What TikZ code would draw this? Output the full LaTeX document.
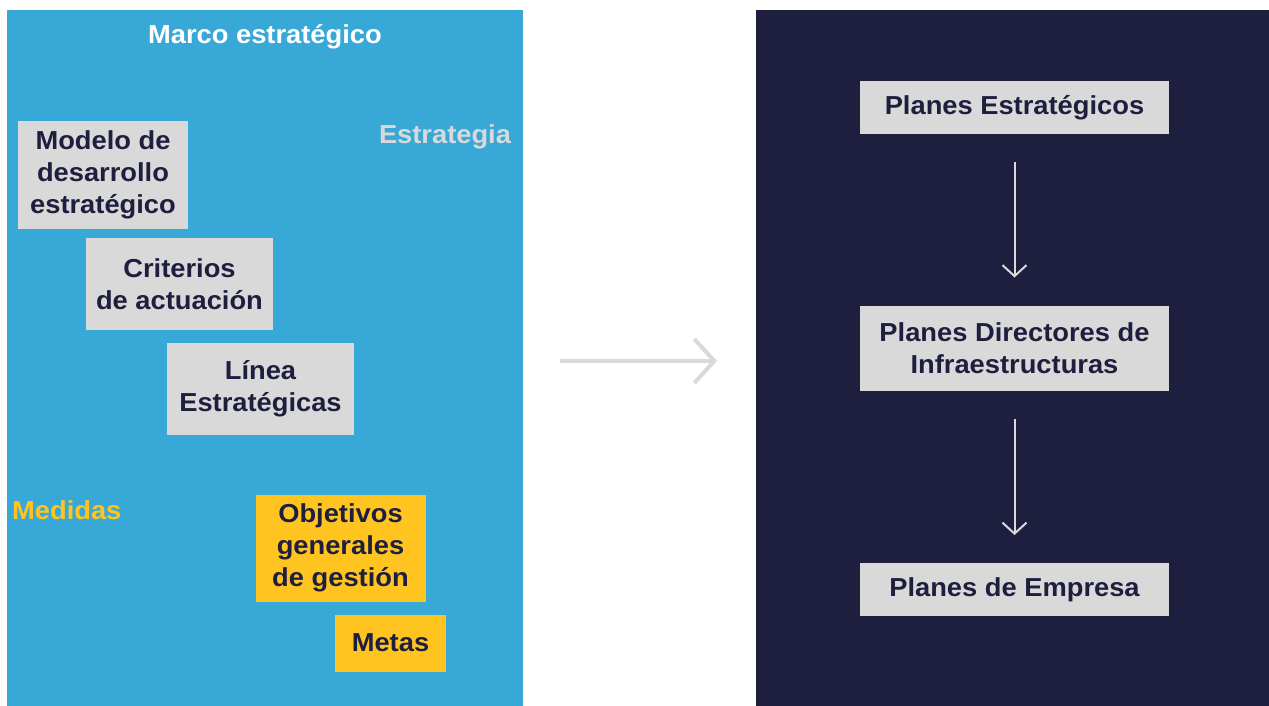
\documentclass[tikz,border=0pt]{standalone}
\usepackage{fontspec}
\setmainfont[FakeStretch=1.05]{Liberation Sans}
\usetikzlibrary{arrows.meta}
\definecolor{skyb}{HTML}{38A9D6}
\definecolor{navy}{HTML}{1E1E3E}
\definecolor{boxgray}{HTML}{D9D9D9}
\definecolor{gold}{HTML}{FFC420}
\tikzset{
  panel/.style={inner sep=0pt, outer sep=0pt},
  card/.style={inner sep=0pt, outer sep=0pt, align=center, text=navy,
    font=\bfseries\fontsize{26}{32}\selectfont},
  graycard/.style={card, fill=boxgray},
  goldcard/.style={card, fill=gold},
  lbl/.style={inner sep=0pt, font=\bfseries\fontsize{26}{30}\selectfont},
  downarrow/.style={draw=boxgray, line width=2pt,
    -{Straight Barb[length=11pt,width=24pt,line width=2pt]}},
  bigarrow/.style={draw=boxgray, line width=4pt,
    -{Straight Barb[length=20pt,width=44pt,line width=4pt]}}
}
\begin{document}
\begin{tikzpicture}[x=1pt,y=-1pt]
\useasboundingbox (0,0) rectangle (1269,706);
\fill[white] (0,0) rectangle (1269,706);
% panels
\node[panel, fill=skyb, minimum width=516pt, minimum height=696pt] (lp) at (265,358) {};
\node[panel, fill=navy, minimum width=513pt, minimum height=696pt] (rp) at (1012.5,358) {};
% left labels
\node[lbl, text=white] (marco) at (265,37) {Marco estratégico};
\node[lbl, text=boxgray] (estr) at (445,137) {Estrategia};
\node[lbl, text=gold, anchor=west] (med) at (12,510) {Medidas};
% left cards
\node[graycard, minimum width=170pt, minimum height=108pt] (modelo) at (103,175) {Modelo de\\desarrollo\\estratégico};
\node[graycard, minimum width=187pt, minimum height=92pt] (crit) at (179.5,284) {Criterios\\de actuación};
\node[graycard, minimum width=187pt, minimum height=92pt] (linea) at (260.5,389) {Línea\\Estratégicas};
\node[goldcard, minimum width=170pt, minimum height=107pt] (obj) at (340.5,548) {Objetivos\\generales\\de gestión};
\node[goldcard, minimum width=111pt, minimum height=57pt] (metas) at (390.5,643) {Metas};
% right cards
\node[graycard, minimum width=309pt, minimum height=53pt] (pe) at (1014.5,107.5) {Planes Estratégicos};
\node[graycard, minimum width=309pt, minimum height=85pt] (pd) at (1014.5,348) {Planes Directores de\\Infraestructuras};
\node[graycard, minimum width=309pt, minimum height=53pt] (pm) at (1014.5,589.5) {Planes de Empresa};
% arrows
\draw[downarrow, shorten <=28pt, shorten >=28pt] (pe.south) -- (pd.north);
\draw[downarrow, shorten <=28pt, shorten >=28pt] (pd.south) -- (pm.north);
\coordinate (ma) at (560,361);
\coordinate (mb) at (717,361);
\draw[bigarrow] (ma) -- (mb);
\end{tikzpicture}
\end{document}
